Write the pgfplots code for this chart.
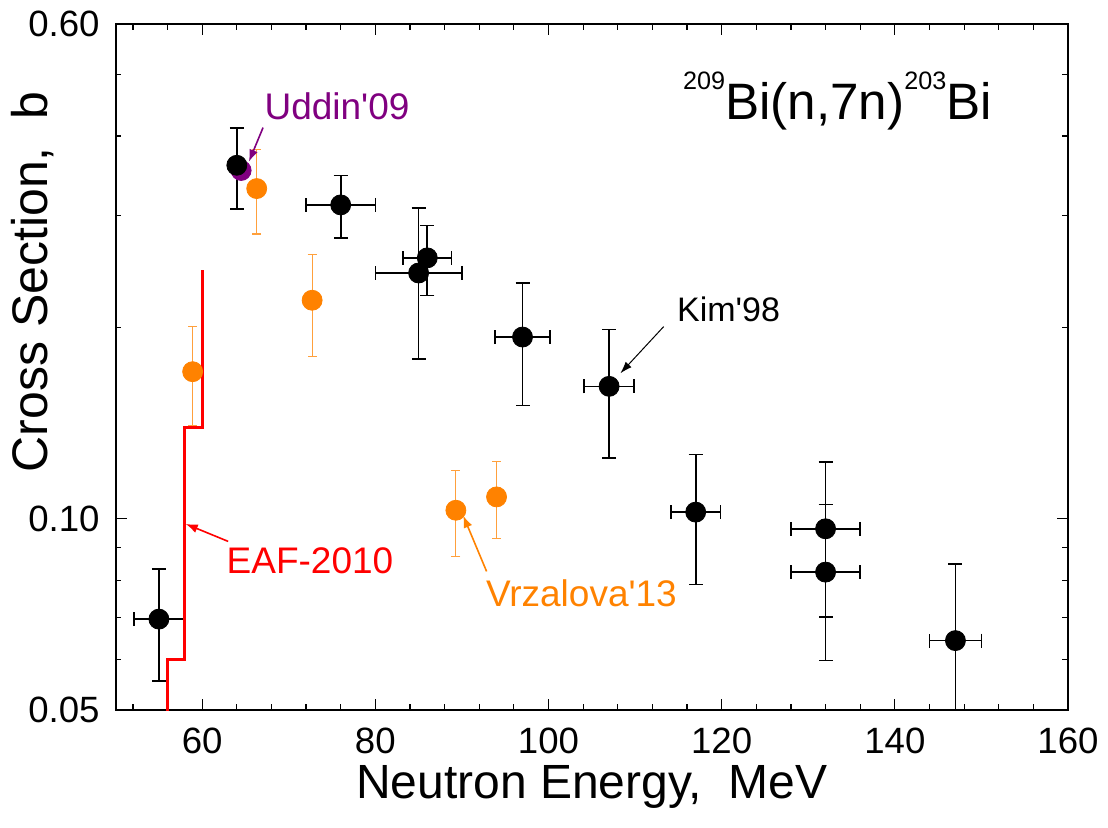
\documentclass[border=0pt]{standalone}
\usepackage{fontspec}
\setmainfont{Liberation Sans}
\usepackage{pgfplots}
\pgfplotsset{compat=1.18}
\usetikzlibrary{arrows.meta}
\definecolor{vorange}{RGB}{255,130,0}
\definecolor{vorangelight}{RGB}{255,160,60}
\definecolor{upurple}{RGB}{128,0,128}
\begin{document}
\begin{tikzpicture}
\useasboundingbox (-57.8pt,-58.5pt) rectangle (496.2pt,355pt);
\begin{axis}[
  scale only axis, width=476.2pt, height=343pt,
  ymode=log,
  xmin=50, xmax=160, ymin=0.05, ymax=0.6,
  xtick={60,80,...,160},
  minor xtick={52,56,...,160},
  ytick={0.05,0.1,0.6}, yticklabels={0.05,0.10,0.60},
  minor ytick={0.06,0.07,0.08,0.09,0.2,0.3,0.4,0.5},
  major tick length=5.5pt, minor tick length=2.8pt,
  tick style={black, line width=0.6pt},
  axis line style={line width=1pt},
  /pgf/number format/assume math mode=true,
  tick label style={font=\fontsize{18.3}{18.3}\selectfont},
  yticklabel style={inner sep=0pt, xshift=-7.8pt},
  xticklabel style={inner sep=0pt, yshift=-9pt},
  xlabel={Neutron Energy,\ \ MeV},
  ylabel={Cross Section,\ \ b},
  xlabel style={font=\fontsize{24}{24}\selectfont, at={(axis description cs:0.5,-0.1285)}, anchor=base, inner sep=0pt},
  ylabel style={font=\fontsize{25}{25}\selectfont, at={(axis description cs:-0.071,0.624)}, anchor=base, rotate=0, inner sep=0pt},
]
% Uddin'09
\addplot[only marks, mark=*, mark size=5pt, upurple] coordinates {(64.5,0.353)};
% Kim'98
\addplot[only marks, mark=*, mark size=5pt, black,
  error bars/.cd, x dir=both, x explicit, y dir=both, y explicit,
  error bar style={line width=0.8pt},
  error mark options={black, rotate=90, mark size=3.5pt, line width=0.8pt}]
table[x=x, y=y, x error=ex, y error plus=ep, y error minus=em]{
x    y      ex   ep     em
55   0.0695 2.9  0.0139 0.0140
64   0.3597 0    0.0523 0.0527
76   0.3116 4.0  0.0349 0.0352
86   0.2572 2.8  0.0322 0.0327
85   0.2435 5.0  0.0648 0.0650
97   0.1931 3.2  0.0418 0.0424
107  0.1615 2.9  0.0368 0.0369
117  0.1024 2.85 0.0237 0.0236
132  0.0964 4.0  0.0264 0.0264
132  0.0824 4.0  0.0228 0.0226
147  0.0643 3.0  0.0206 0.0193
};
% Vrzalova'13
\addplot[only marks, mark=*, mark size=5pt, color=vorange,
  error bars/.cd, y dir=both, y explicit,
  error bar style={line width=0.6pt, color=vorangelight},
  error mark options={color=vorangelight, rotate=90, mark size=2.2pt, line width=0.6pt}]
table[x=x, y=y, y error plus=ep, y error minus=em]{
x    y      ep     em
58.9 0.1703 0.0300 0.0302
66.3 0.3306 0.0501 0.0502
72.7 0.2206 0.0397 0.0406
89.3 0.1031 0.0160 0.0159
94.0 0.1082 0.0149 0.0151
};
% EAF-2010
\addplot[red, line width=1.5pt, no marks] coordinates {
(56,0.04) (56,0.0601) (58,0.0601) (58,0.1392) (60,0.1392) (60,0.2459)
};
% annotations
\node[upurple, font=\fontsize{18.5}{18.5}\selectfont] at (axis cs:75.57,0.4448) {Uddin\textquotesingle09};
\draw[upurple, line width=0.8pt, -{Latex[length=6pt,width=4.5pt]}] (axis cs:67.03,0.4123) -- (axis cs:65.4,0.3645);
\node[black, font=\fontsize{17}{17}\selectfont] at (axis cs:120.8,0.2138) {Kim\textquotesingle98};
\draw[black, line width=0.5pt, -{Latex[length=6pt,width=4pt]}] (axis cs:113.3,0.2005) -- (axis cs:108.3,0.1693);
\node[red, font=\fontsize{18.5}{18.5}\selectfont] at (axis cs:72.45,0.0859) {EAF-2010};
\draw[red, line width=0.8pt, -{Latex[length=6pt,width=4.5pt]}] (axis cs:63.0,0.0921) -- (axis cs:58.1,0.0981);
\node[vorange, font=\fontsize{18.5}{18.5}\selectfont] at (axis cs:103.8,0.0762) {Vrzalova\textquotesingle13};
\draw[vorange, line width=0.8pt, -{Latex[length=6pt,width=4.5pt]}] (axis cs:92.85,0.0826) -- (axis cs:90.15,0.1011);
\node[anchor=base west, inner sep=0pt] at (axis cs:115.5,0.4243) {\fontsize{25.6}{25.6}\selectfont\raisebox{15pt}{\fontsize{12.6}{12.6}\selectfont 209}Bi(n,7n)\raisebox{15pt}{\fontsize{12.6}{12.6}\selectfont 203}Bi};
\end{axis}
\end{tikzpicture}
\end{document}
